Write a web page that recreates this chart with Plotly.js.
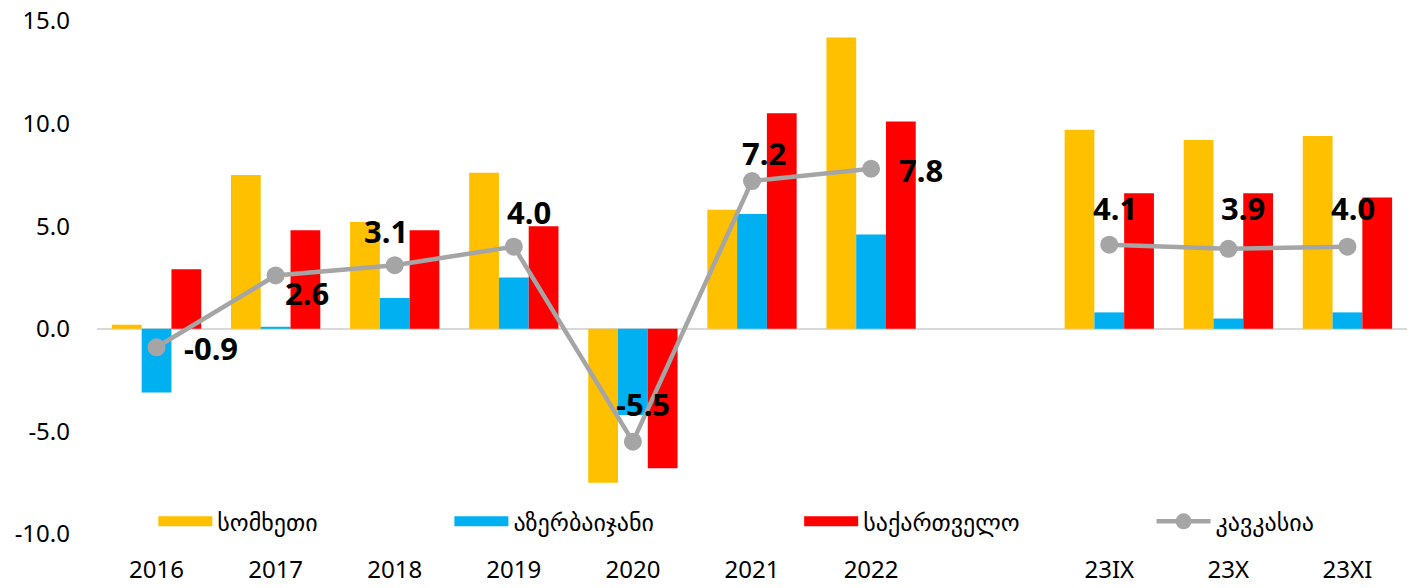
<!DOCTYPE html>
<html>
<head>
<meta charset="utf-8">
<script src="https://cdn.plot.ly/plotly-3.0.1.min.js"></script>
<style>
  html, body { margin: 0; padding: 0; background: #fff; }
  #chart { width: 1412px; height: 588px; }
</style>
</head>
<body>
<div id="chart"></div>
<script>
// ---- data ----
var categories = ['2016', '2017', '2018', '2019', '2020', '2021', '2022', ' ', '23IX', '23X', '23XI'];
var armenia    = [0.2, 7.5, 5.2, 7.6, -7.5, 5.8, 14.2, null, 9.7, 9.2, 9.4];
var azerbaijan = [-3.1, 0.1, 1.5, 2.5, -4.2, 5.6, 4.6, null, 0.8, 0.5, 0.8];
var georgia    = [2.9, 4.8, 4.8, 5.0, -6.8, 10.5, 10.1, null, 6.6, 6.6, 6.4];
var caucasus   = [-0.9, 2.6, 3.1, 4.0, -5.5, 7.2, 7.8, null, 4.1, 3.9, 4.0];
var seriesNames = ['სომხეთი', 'აზერბაიჯანი', 'საქართველო', 'კავკასია'];
var yTickVals = [-10, -5, 0, 5, 10, 15];
var yTickText = ['-10.0', '-5.0', '0.0', '5.0', '10.0', '15.0'];

// ---- styles ----
var colors = ['#FFC000', '#00B0F0', '#FF0000', '#A5A5A5'];
var FONT = '"Noto Sans", "DejaVu Sans", sans-serif';
// label offsets (pixels) of the caucasus value labels relative to their points
var labelDX = [54, 31, -9, 15, 10, 12, 50, 0, 6, 15, 6];
var labelDY = [-1, -18, 34, 35, 38, 28, -1, 0, 37, 41, 39];

function barTrace(vals, i) {
  return {
    type: 'bar', x: categories, y: vals, name: seriesNames[i],
    marker: { color: colors[i], line: { width: 0 } },
    showlegend: false, legendgroup: 'g' + i, hoverinfo: 'x+y'
  };
}
function legendSwatch(i, legendId) {
  return {
    type: 'scatter', mode: 'lines', x: [null], y: [null], name: seriesNames[i],
    line: { color: colors[i], width: 16 },
    legendgroup: 'g' + i, legend: legendId, hoverinfo: 'skip'
  };
}

var lineTrace = {
  type: 'scatter', mode: 'lines+markers', x: categories, y: caucasus,
  name: seriesNames[3], legend: 'legend4',
  line: { color: colors[3], width: 4.5 },
  marker: { color: colors[3], size: 18 },
  connectgaps: false,
  cliponaxis: false
};

var data = [
  barTrace(armenia, 0), barTrace(azerbaijan, 1), barTrace(georgia, 2),
  legendSwatch(0, 'legend'), legendSwatch(1, 'legend2'), legendSwatch(2, 'legend3'),
  lineTrace
];

// value labels of the caucasus line, placed at each point (category index on the category axis)
var annotations = [];
categories.forEach(function (c, i) {
  if (caucasus[i] === null) return;
  annotations.push({
    x: i, y: caucasus[i], xref: 'x', yref: 'y',
    text: caucasus[i].toFixed(1), showarrow: false,
    xanchor: 'center', yanchor: 'middle',
    xshift: labelDX[i], yshift: labelDY[i],
    font: { family: FONT, size: 31, color: '#000', weight: 'bold' }
  });
});

function legendAt(x) {
  return {
    x: x, y: 0.024, xanchor: 'left', yanchor: 'middle', orientation: 'h',
    bgcolor: 'rgba(0,0,0,0)', borderwidth: 0, itemwidth: 54,
    font: { family: FONT, size: 24, color: '#000' }
  };
}

var layout = {
  width: 1412, height: 588,
  margin: { l: 97, r: 5, t: 21, b: 54 },
  paper_bgcolor: '#fff', plot_bgcolor: '#fff',
  font: { family: FONT, size: 24, color: '#000' },
  barmode: 'group', bargap: 0.25, bargroupgap: 0,
  showlegend: true,
  legend: legendAt(0.043),
  legend2: legendAt(0.269),
  legend3: legendAt(0.536),
  legend4: legendAt(0.805),
  annotations: annotations,
  xaxis: {
    type: 'category', categoryorder: 'array', categoryarray: categories,
    range: [-0.5, 10.5], showgrid: false, showline: false, zeroline: false,
    ticks: '', ticklabelstandoff: 19,
    tickfont: { family: FONT, size: 24, color: '#000' }
  },
  yaxis: {
    range: [-10, 15], tickvals: yTickVals, ticktext: yTickText,
    showgrid: false, showline: false, ticks: '',
    zeroline: true, zerolinecolor: '#D9D9D9', zerolinewidth: 2,
    ticklabelstandoff: 26,
    tickfont: { family: FONT, size: 24, color: '#000' }
  }
};

Plotly.newPlot('chart', data, layout, { displayModeBar: false, staticPlot: true });
</script>
</body>
</html>
